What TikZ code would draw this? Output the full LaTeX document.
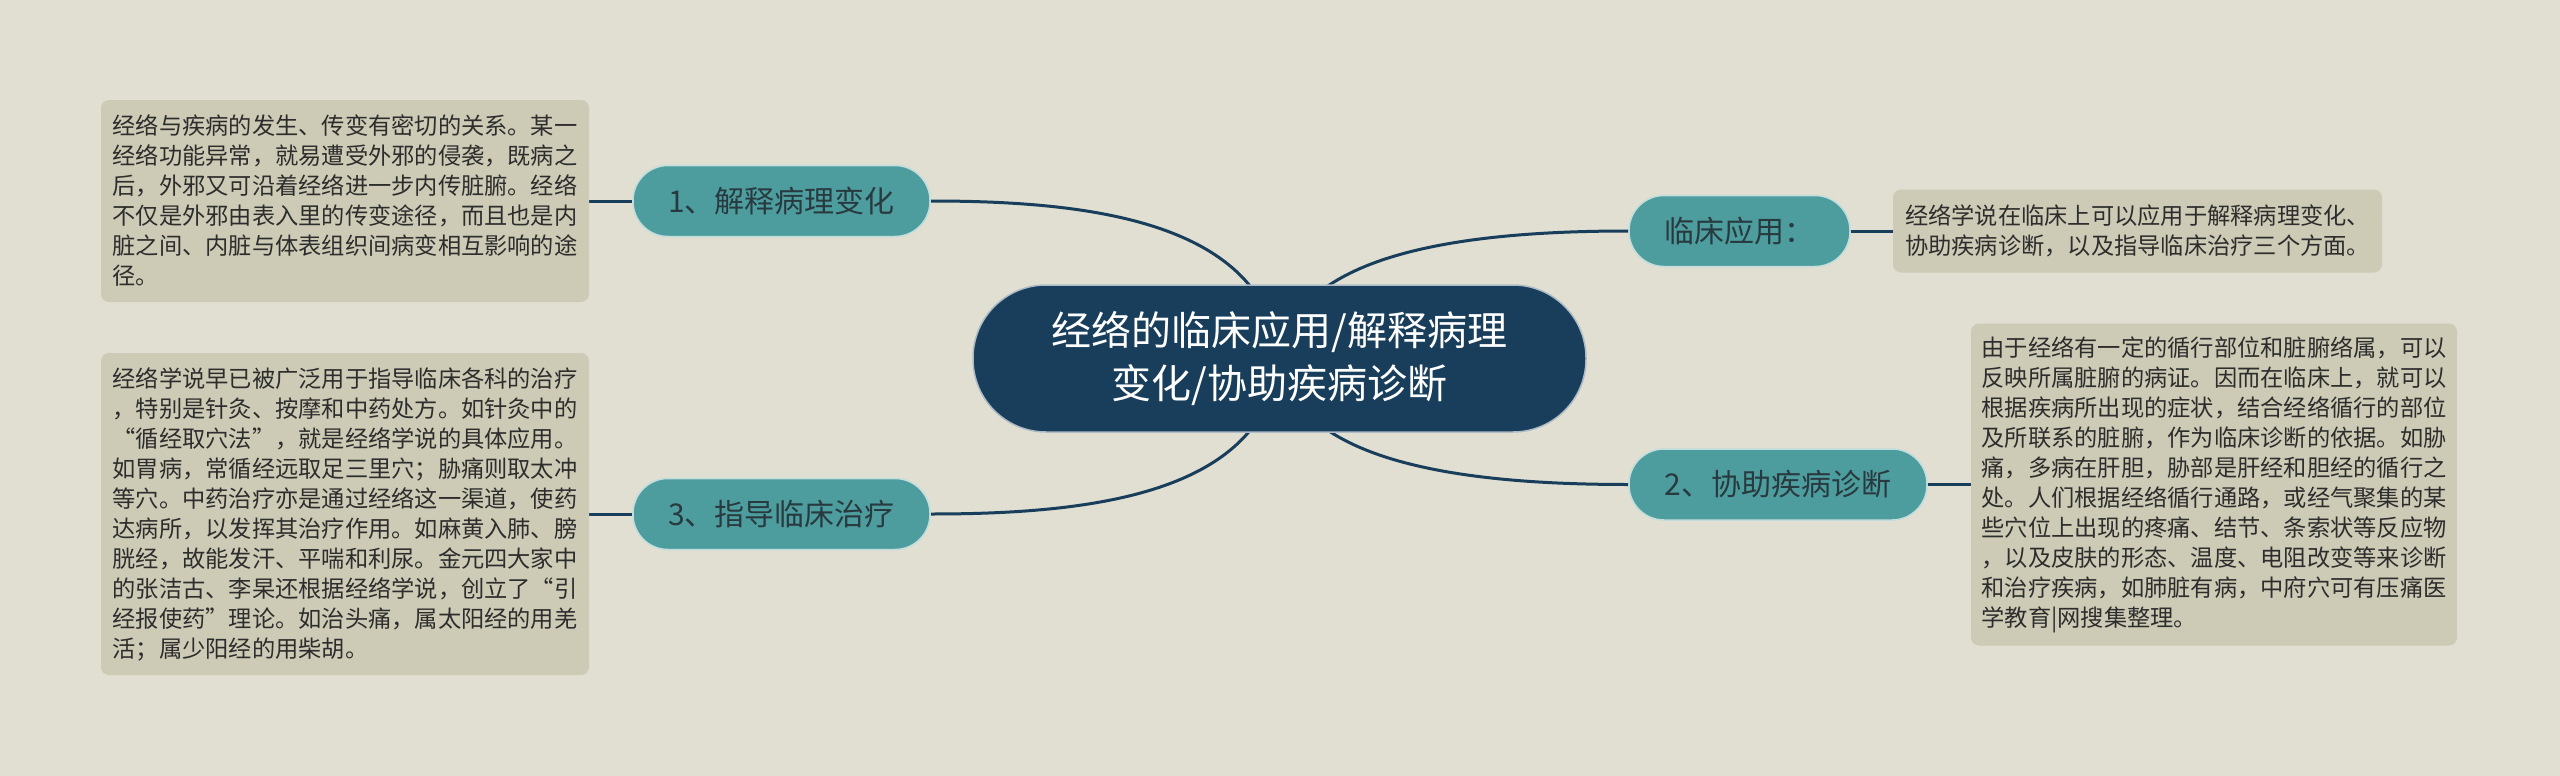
\documentclass[tikz,border=0pt]{standalone}
\usepackage{fontspec}
\setmainfont{Noto Sans CJK SC}
\usetikzlibrary{calc}
\pgfdeclarelayer{bg}
\pgfsetlayers{bg,main}
\definecolor{bgc}{RGB}{224,223,209}
\definecolor{boxc}{RGB}{205,203,181}
\definecolor{tealc}{RGB}{78,157,158}
\definecolor{navyc}{RGB}{24,62,92}
\definecolor{txtc}{RGB}{45,45,45}
\definecolor{pilltxt}{RGB}{40,58,64}
\tikzset{
 textbox/.style={fill=boxc, rounded corners=8pt, inner sep=0pt, text=txtc, align=left,
   font=\fontsize{23.25pt}{30pt}\selectfont},
 pill/.style={fill=tealc, draw=white!65!tealc, line width=1.5pt, rounded corners=35pt,
   minimum height=71pt, inner sep=0pt, text=pilltxt, font=\fontsize{30pt}{36pt}\selectfont},
 rootnode/.style={fill=navyc, draw=white!65!navyc, line width=1.5pt, rounded corners=73pt,
   minimum width=613pt, minimum height=147pt, inner sep=0pt, text=white, align=center,
   font=\fontsize{40pt}{53pt}\selectfont},
 conn/.style={draw=navyc, line width=3pt},
}
\begin{document}
\begin{tikzpicture}[x=1pt,y=-1pt]
\begin{pgfonlayer}{bg}
\fill[bgc] (0,0) rectangle (2560,776);
\end{pgfonlayer}
\useasboundingbox (0,0) rectangle (2560,776);

\node[textbox, minimum width=488pt, minimum height=202pt] (b1) at (345,201) {经络与疾病的发生、传变有密切的关系。某一\\经络功能异常，就易遭受外邪的侵袭，既病之\\后，外邪又可沿着经络进一步内传脏腑。经络\\不仅是外邪由表入里的传变途径，而且也是内\\脏之间、内脏与体表组织间病变相互影响的途\\径。};

\node[textbox, minimum width=488pt, minimum height=322pt] (b2) at (345,514) {经络学说早已被广泛用于指导临床各科的治疗\\，特别是针灸、按摩和中药处方。如针灸中的\\“循经取穴法”，就是经络学说的具体应用。\\如胃病，常循经远取足三里穴；胁痛则取太冲\\等穴。中药治疗亦是通过经络这一渠道，使药\\达病所，以发挥其治疗作用。如麻黄入肺、膀\\胱经，故能发汗、平喘和利尿。金元四大家中\\的张洁古、李杲还根据经络学说，创立了“引\\经报使药”理论。如治头痛，属太阳经的用羌\\活；属少阳经的用柴胡。};

\node[textbox, minimum width=489pt, minimum height=83pt] (btr) at (2137.5,231) {经络学说在临床上可以应用于解释病理变化、\\协助疾病诊断，以及指导临床治疗三个方面。};

\node[textbox, minimum width=486pt, minimum height=322pt] (br) at (2214,484.5) {由于经络有一定的循行部位和脏腑络属，可以\\反映所属脏腑的病证。因而在临床上，就可以\\根据疾病所出现的症状，结合经络循行的部位\\及所联系的脏腑，作为临床诊断的依据。如胁\\痛，多病在肝胆，胁部是肝经和胆经的循行之\\处。人们根据经络循行通路，或经气聚集的某\\些穴位上出现的疼痛、结节、条索状等反应物\\，以及皮肤的形态、温度、电阻改变等来诊断\\和治疗疾病，如肺脏有病，中府穴可有压痛医\\学教育|网搜集整理。};

\node[rootnode] (root) at (1279.5,358.5) {经络的临床应用/解释病理\\变化/协助疾病诊断};

\node[pill, minimum width=297pt] (p1) at (781.5,201) {1、解释病理变化};
\node[pill, minimum width=297pt] (p3) at (781.5,514) {3、指导临床治疗};
\node[pill, minimum width=221pt] (pc) at (1739.5,231) {临床应用：};
\node[pill, minimum width=298pt] (p2) at (1778,484.5) {2、协助疾病诊断};

\begin{pgfonlayer}{bg}
\draw[conn] (root.center) .. controls ($(root.center)+(-15,-137)$) and ($(p1.east)+(160,0)$) .. (p1.east);
\draw[conn] (root.center) .. controls ($(root.center)+(15,-107)$) and ($(pc.west)+(-160,0)$) .. (pc.west);
\draw[conn] (root.center) .. controls ($(root.center)+(-15,136)$) and ($(p3.east)+(160,0)$) .. (p3.east);
\draw[conn] (root.center) .. controls ($(root.center)+(15,106)$) and ($(p2.west)+(-160,0)$) .. (p2.west);
\draw[conn] (b1.east |- p1.west) -- (p1.west);
\draw[conn] (b2.east |- p3.west) -- (p3.west);
\draw[conn] (pc.east) -- (btr.west |- pc.east);
\draw[conn] (p2.east) -- (br.west |- p2.east);
\end{pgfonlayer}
\end{tikzpicture}
\end{document}
